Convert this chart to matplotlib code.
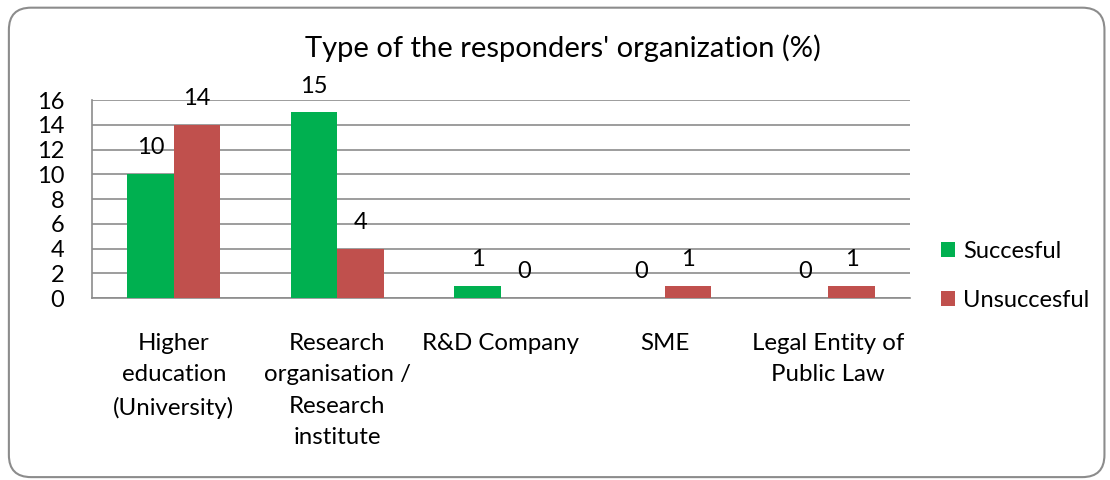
import matplotlib
matplotlib.use("Agg")
import matplotlib.pyplot as plt
import numpy as np
from matplotlib.patches import FancyBboxPatch

plt.rcParams['font.family'] = ['Lato', 'DejaVu Sans']

categories = ['Higher\neducation\n(University)', 'Research\norganisation /\nResearch\ninstitute',
              'R&D Company', 'SME', 'Legal Entity of\nPublic Law']
successful = [10, 15, 1, 0, 0]
unsuccessful = [14, 4, 0, 1, 1]
series_names = ['Succesful', 'Unsuccesful']
colors = ['#00B050', '#C0504D']

fig = plt.figure(figsize=(11.1, 4.8), dpi=100)
ax = fig.add_axes([0.0829, 0.379, 0.7369, 0.4125])

# rounded frame round the whole chart
frame = FancyBboxPatch((0.008, 0.006), 0.987, 0.978, boxstyle="round,pad=0,rounding_size=0.02",
                       transform=fig.transFigure, facecolor='none', edgecolor='#8c8c8c', linewidth=1.5,
                       mutation_aspect=1110 / 480)
fig.patches.append(frame)

x = np.arange(len(categories))
w = 0.285
for i, (vals, name, c) in enumerate(zip([successful, unsuccessful], series_names, colors)):
    xs = x + (i - 0.5) * w
    ax.bar(xs, vals, width=w, color=c, label=name, zorder=3)
    for xi, v in zip(xs, vals):
        ax.annotate(str(v), (xi, v), xytext=(0, 19), textcoords='offset points',
                    ha='center', va='center', fontsize=17, zorder=4)

ax.set_xlim(-0.5, len(categories) - 0.5)
ax.set_ylim(0, 16)
ax.set_yticks(range(0, 17, 2))
ax.grid(axis='y', color='#8c8c8c', linewidth=1.2, zorder=0)
for s in ['top', 'right']:
    ax.spines[s].set_visible(False)
for s in ['left', 'bottom']:
    ax.spines[s].set_color('#8c8c8c')
    ax.spines[s].set_linewidth(1.2)
ax.set_xticks(x)
ax.set_xticklabels(categories, fontsize=17.3, linespacing=1.62, va='top')
ax.tick_params(axis='x', length=0, pad=25)
ax.tick_params(axis='y', length=0, pad=20, labelsize=17)

fig.text(0.507, 0.9, "Type of the responders' organization (%)", fontsize=21, ha='center', va='center')

ax.legend(loc='center left', bbox_to_anchor=(1.012, 0.113), frameon=False, fontsize=17,
          handlelength=0.6, handleheight=0.6, handletextpad=0.35, labelspacing=1.2)

fig.savefig('out.png', dpi=100)
